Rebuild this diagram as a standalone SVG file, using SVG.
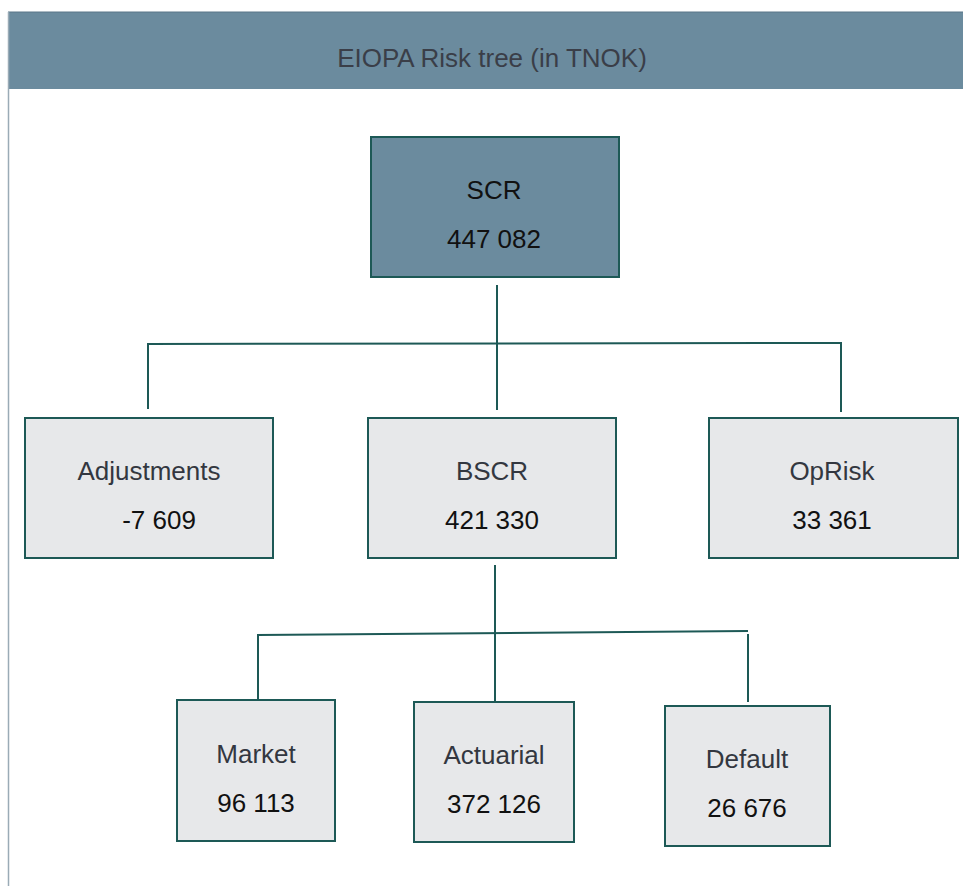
<svg xmlns="http://www.w3.org/2000/svg" width="963" height="886" viewBox="0 0 963 886">
<style>
.box{fill:#e7e8ea;stroke:#1d5956;stroke-width:2}
.top{fill:#6b8b9e;stroke:#1d5956;stroke-width:2}
.lbl{font-family:"Liberation Sans",Arial,sans-serif;font-size:26px;fill:#333740;text-anchor:middle}
.num{font-family:"Liberation Sans",Arial,sans-serif;font-size:26px;fill:#111;text-anchor:middle}
.conn{stroke:#1d5956;stroke-width:2;fill:none}
</style>
<rect x="0" y="0" width="963" height="886" fill="#ffffff"/>
<g id="header">
<rect x="8" y="12" width="955" height="77" fill="#6b8b9e"/>
<line x1="8" y1="12" x2="963" y2="12" stroke="#5a7788" stroke-width="1"/>
<line x1="8.5" y1="12" x2="8.5" y2="886" stroke="#9aabb6" stroke-width="1.5"/>
<text x="492" y="67" font-family="'Liberation Sans',Arial,sans-serif" font-size="26" fill="#3a3e48" text-anchor="middle">EIOPA Risk tree (in TNOK)</text>
</g>
<g id="connectors">
<line class="conn" x1="497" y1="285" x2="497" y2="410"/>
<polyline class="conn" points="148,409 148,344 841,343 841,412"/>
<line class="conn" x1="495" y1="565" x2="495" y2="701"/>
<polyline class="conn" points="258,699 258,635 748,631"/>
<line class="conn" x1="748" y1="634" x2="748" y2="702"/>
</g>
<g id="scr">
<rect class="top" x="371" y="137" width="248" height="140"/>
<text class="num" x="494" y="199">SCR</text>
<text class="num" x="494" y="248">447 082</text>
</g>
<g id="adjustments">
<rect class="box" x="25" y="418" width="248" height="140"/>
<text class="lbl" x="149" y="480">Adjustments</text>
<text class="num" x="159" y="529">-7 609</text>
</g>
<g id="bscr">
<rect class="box" x="368" y="418" width="248" height="140"/>
<text class="lbl" x="492" y="480">BSCR</text>
<text class="num" x="492" y="529">421 330</text>
</g>
<g id="oprisk">
<rect class="box" x="709" y="418" width="249" height="140"/>
<text class="lbl" x="832" y="480">OpRisk</text>
<text class="num" x="832" y="529">33 361</text>
</g>
<g id="market">
<rect class="box" x="177" y="700" width="158" height="141"/>
<text class="lbl" x="256" y="763">Market</text>
<text class="num" x="256" y="812">96 113</text>
</g>
<g id="actuarial">
<rect class="box" x="414" y="702" width="160" height="140"/>
<text class="lbl" x="494" y="764">Actuarial</text>
<text class="num" x="494" y="813">372 126</text>
</g>
<g id="default">
<rect class="box" x="665" y="706" width="165" height="140"/>
<text class="lbl" x="747" y="768">Default</text>
<text class="num" x="747" y="817">26 676</text>
</g>
</svg>
